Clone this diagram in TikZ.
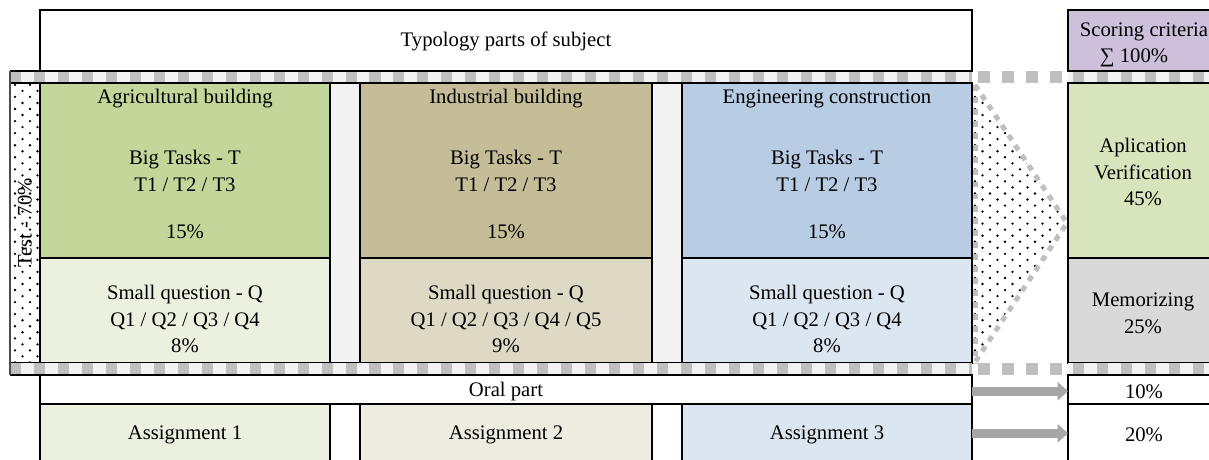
\documentclass[tikz,border=0pt]{standalone}
\usepackage{fontspec}
\setmainfont{Liberation Serif}
\usetikzlibrary{fit,patterns,arrows.meta}

\definecolor{agrdark}{HTML}{C4D79B}
\definecolor{agrlight}{HTML}{EBF1DE}
\definecolor{inddark}{HTML}{C4BD97}
\definecolor{indlight}{HTML}{DDD9C4}
\definecolor{indasg}{HTML}{EEECE1}
\definecolor{engdark}{HTML}{B8CCE4}
\definecolor{englight}{HTML}{DCE6F1}
\definecolor{appcol}{HTML}{D8E4BC}
\definecolor{memcol}{HTML}{D9D9D9}
\definecolor{scorecol}{HTML}{CCC0DA}
\definecolor{gapcol}{HTML}{F2F2F2}
\definecolor{sqcol}{HTML}{BFBFBF}
\definecolor{arrcol}{HTML}{A6A6A6}

\pgfdeclarepatternformonly{sparse dots}{\pgfqpoint{-1pt}{-1pt}}{\pgfqpoint{9.7pt}{8pt}}{\pgfqpoint{8.7pt}{7pt}}{%
  \pgfpathcircle{\pgfqpoint{0pt}{0pt}}{0.75pt}%
  \pgfpathcircle{\pgfqpoint{4.35pt}{3.5pt}}{0.75pt}%
  \pgfusepath{fill}}

\tikzset{
  cell/.style={draw=black, line width=0.8pt, inner sep=0pt, outer sep=0pt},
  sqband/.style={draw=sqcol, line width=6.9pt, dash pattern=on 6.4pt off 7.5pt},
  sqgap/.style={draw=sqcol, line width=6.9pt, dash pattern=on 7pt off 7pt},
  triedge/.style={draw=sqcol, line width=2.9pt, dash pattern=on 3.4pt off 3.6pt},
  fatarrow/.style={draw=arrcol, line width=5.2pt, -{Triangle[width=10.4pt,length=6pt]}}
}

\begin{document}
\begin{tikzpicture}[x=0.58pt, y=-0.58pt, font=\fontsize{12}{15.5}\selectfont]
	\useasboundingbox (0,0) rectangle (1209,459);
	\begin{scope}
	\clip (0,0) rectangle (1209,459);

	% header
	\node[cell, fit={(40,10)(972,71)}] (typo) {};
	\node (typotxt) at (506,41) {Typology parts of subject};
	\node[cell, fill=scorecol, fit={(1068,10)(1222,71)}] (score) {};
	\node (scoretxt) at (1144,32) {Scoring criteria};
	\node (sumtxt) at (1134,58) {∑ 100\%};

	% test part
	\node[cell, pattern=sparse dots, fit={(10,83)(40,363)}] (teststrip) {};
	\node[rotate=90] (testtxt) at (25,223) {Test - 70\%};

	\node[cell, fill=gapcol, fit={(330,83)(360,363)}] (gap1) {};
	\node[cell, fill=gapcol, fit={(652,83)(682,363)}] (gap2) {};

	\node[cell, fill=agrdark, fit={(40,83)(330,258)}] (agrbig) {};
	\node[cell, fill=agrlight, fit={(40,258)(330,363)}] (agrsmall) {};
	\node[cell, fill=inddark, fit={(360,83)(652,258)}] (indbig) {};
	\node[cell, fill=indlight, fit={(360,258)(652,363)}] (indsmall) {};
	\node[cell, fill=engdark, fit={(682,83)(972,258)}] (engbig) {};
	\node[cell, fill=englight, fit={(682,258)(972,363)}] (engsmall) {};

	\node (agrname) at (185,99) {Agricultural building};
	\node[align=center] (agrtask) at (185,171) {Big Tasks - T\\T1 / T2 / T3};
	\node (agrpct) at (185,232) {15\%};
	\node[align=center] (agrquest) at (185,319) {Small question - Q\\Q1 / Q2 / Q3 / Q4\\8\%};

	\node (indname) at (506,99) {Industrial building};
	\node[align=center] (indtask) at (506,171) {Big Tasks - T\\T1 / T2 / T3};
	\node (indpct) at (506,232) {15\%};
	\node[align=center] (indquest) at (506,319) {Small question - Q\\Q1 / Q2 / Q3 / Q4 / Q5\\9\%};

	\node (engname) at (827,99) {Engineering construction};
	\node[align=center] (engtask) at (827,171) {Big Tasks - T\\T1 / T2 / T3};
	\node (engpct) at (827,232) {15\%};
	\node[align=center] (engquest) at (827,319) {Small question - Q\\Q1 / Q2 / Q3 / Q4\\8\%};

	\node[cell, fill=appcol, fit={(1068,83)(1222,258)}] (app) {};
	\node[cell, fill=memcol, fit={(1068,258)(1222,363)}] (mem) {};
	\node[align=center] (apptxt) at (1143,172) {Aplication\\Verification\\45\%};
	\node[align=center] (memtxt) at (1143,313) {Memorizing\\25\%};

	% dotted wedge
	\fill[pattern=sparse dots] (972,83) -- (1067,223) -- (972,363) -- cycle;
	\draw[triedge] (975,85) -- (975,363);
	\draw[triedge] (975,85) -- (1067,223) -- (975,362);

	% dashed bands
	\fill[gapcol] (10,71) rectangle (972,83);
	\fill[gapcol] (1068,71) rectangle (1209,83);
	\draw[sqband] (10,77) -- (972,77);
	\draw[sqgap] (978,77) -- (1068,77);
	\draw[sqband] (1073,77) -- (1209,77);
	\draw[line width=0.8pt] (10,71) -- (972,71) (10,83) -- (972,83);
	\draw[line width=0.8pt] (1068,71) -- (1209,71) (1068,83) -- (1209,83);

	\fill[gapcol] (10,363) rectangle (972,375);
	\fill[gapcol] (1068,363) rectangle (1209,375);
	\draw[sqband] (10,369) -- (972,369);
	\draw[sqgap] (978,369) -- (1068,369);
	\draw[sqband] (1073,369) -- (1209,369);
	\draw[line width=0.8pt] (10,375) -- (972,375) (1068,375) -- (1209,375);
	\draw[line width=1.2pt, black!70] (10,71) -- (10,375);

	% oral and assignments
	\node[cell, fit={(40,375)(972,404)}] (oral) {};
	\node (oraltxt) at (506,392) {Oral part};
	\node[cell, fit={(1068,375)(1222,404)}] (oralpct) {};
	\node (oralpcttxt) at (1144,392) {10\%};
	\node[cell, fill=agrlight, fit={(40,404)(330,466)}] (asg1) {};
	\node[cell, fit={(330,404)(360,466)}] (asggap1) {};
	\node[cell, fill=indasg, fit={(360,404)(652,466)}] (asg2) {};
	\node[cell, fit={(652,404)(682,466)}] (asggap2) {};
	\node[cell, fill=englight, fit={(682,404)(972,466)}] (asg3) {};
	\node[cell, fit={(1068,404)(1222,466)}] (asgpct) {};
	\node (asg1txt) at (185,435) {Assignment 1};
	\node (asg2txt) at (506,435) {Assignment 2};
	\node (asg3txt) at (827,435) {Assignment 3};
	\node (asgpcttxt) at (1144,435) {20\%};

	\draw[fatarrow] ([yshift=-1pt]oral.east) -- ([yshift=-1pt]oralpct.west);
	\draw[fatarrow] ([yshift=1pt]asg3.east) -- ([yshift=1pt]asgpct.west);
	\end{scope}
\end{tikzpicture}
\end{document}
